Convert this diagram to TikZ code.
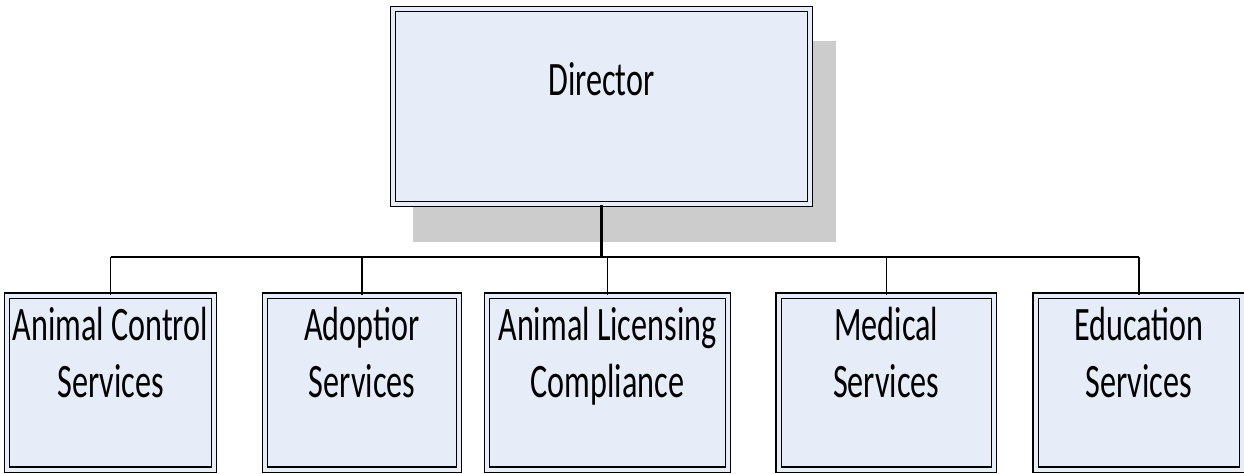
\documentclass[tikz,border=0pt]{standalone}
\usepackage{fontspec}
\setmainfont{Carlito}[FakeStretch=0.67]
\definecolor{boxfill}{HTML}{E6EDF8}
\definecolor{shadowgray}{HTML}{CCCCCC}
\begin{document}
\begin{tikzpicture}[x=0.5pt,y=-0.5pt,
  orgbox/.style={draw=black, line width=0.55pt, double=boxfill, double distance=2pt, fill=boxfill, inner sep=0pt},
  childbox/.style={orgbox, minimum height=87pt},
  lbl/.style={align=center, anchor=north, inner sep=0pt, font=\fontsize{24}{28.5}\selectfont},
  link/.style={draw=black, line width=0.75pt}]
\useasboundingbox (0,0) rectangle (1244,473);
\fill[shadowgray] (413,41) rectangle (836,242);
\node[orgbox, minimum width=208.5pt, minimum height=97.5pt] (dir) at (601.5,106.5) {};
\node[childbox, minimum width=103.5pt] (c1) at (110.5,382.5) {};
\node[childbox, minimum width=96.85pt] (c2) at (362,382.5) {};
\node[childbox, minimum width=120.5pt] (c3) at (607.5,382.5) {};
\node[childbox, minimum width=107.75pt] (c4) at (886.25,382.5) {};
\node[childbox, minimum width=103.25pt] (c5) at (1138.75,382.5) {};
\node[lbl] (tdir) at (601.5,62) {Director};
\node[lbl] (t1) at (110.5,307) {Animal Control\\Services};
\node[lbl] (t2) at (362,307) {Adoptior\\Services};
\node[lbl] (t3) at (607.5,307) {Animal Licensing\\Compliance};
\node[lbl] (t4) at (886.25,307) {Medical\\Services};
\node[lbl] (t5) at (1138.75,307) {Education\\Services};
\coordinate (bar) at (601.5,257);
\draw[line width=1.5pt] (dir.south) -- (dir.south |- bar);
\draw[line width=1pt] (c1.north |- bar) -- (c5.north |- bar);
\foreach \c in {c1,c2,c3,c4,c5} \draw[link] (\c.north |- bar) -- (\c.north);
\end{tikzpicture}
\end{document}
